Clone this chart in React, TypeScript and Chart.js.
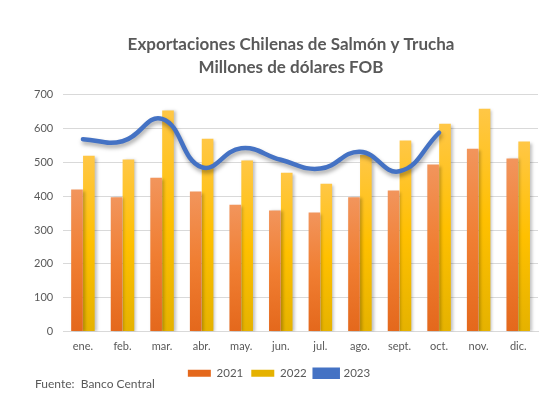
import React, { useEffect, useRef } from "react";
import { Chart, registerables } from "chart.js";

Chart.register(...registerables);

const categories = ["ene.", "feb.", "mar.", "abr.", "may.", "jun.", "jul.", "ago.", "sept.", "oct.", "nov.", "dic."];
const values2021 = [420, 397, 455, 414, 375, 358, 352, 397, 417, 494, 541, 512];
const values2022 = [520, 509, 654, 570, 506, 470, 437, 522, 565, 615, 659, 562];
const values2023 = [569, 563, 629, 486, 542, 508, 482, 532, 474, 588, null, null];
const titleLines = ["Exportaciones Chilenas de Salmón y Trucha", "Millones de dólares FOB"];
const sourceText = "Fuente:  Banco Central";

const TEXT = "#595959";
const FONT = "Lato, 'Open Sans', sans-serif";

function barGradient(stops: [number, string][]) {
  return (ctx: any) => {
    const chart = ctx.chart;
    const area = chart.chartArea;
    const y = chart.scales?.y;
    if (!area || !y || ctx.raw == null) return stops[1][1];
    const top = y.getPixelForValue(ctx.raw);
    const bottom = y.getPixelForValue(0);
    if (!isFinite(top) || bottom - top < 1) return stops[1][1];
    const g = chart.ctx.createLinearGradient(0, top, 0, bottom);
    stops.forEach(([o, c]) => g.addColorStop(o, c));
    return g;
  };
}

const shadowPlugin = {
  id: "shadowPlugin",
  afterLayout(chart: any) {
    // Excel-like placement: title centred slightly right, legend slightly left
    if (chart.titleBlock) {
      chart.titleBlock.left += 10;
      chart.titleBlock.right += 10;
    }
    if (chart.legend) {
      chart.legend.left -= 2;
      chart.legend.right -= 2;
    }
  },
  beforeDatasetDraw(chart: any, args: any) {
    const c = chart.ctx;
    c.save();
    if (args.meta.type === "line") {
      c.shadowColor = "rgba(0,0,0,0.35)";
      c.shadowBlur = 4;
      c.shadowOffsetX = 1;
      c.shadowOffsetY = 3;
    } else {
      c.shadowColor = "rgba(0,0,0,0.25)";
      c.shadowBlur = 3;
      c.shadowOffsetX = 2;
      c.shadowOffsetY = 1;
    }
  },
  afterDatasetDraw(chart: any) {
    chart.ctx.restore();
  },
};

export default function App() {
  const ref = useRef<HTMLCanvasElement | null>(null);

  useEffect(() => {
    if (!ref.current) return;
    const chart = new Chart(ref.current, {
      type: "bar",
      data: {
        labels: categories,
        datasets: [
          {
            type: "bar",
            label: "2021",
            data: values2021,
            order: 1,
            backgroundColor: barGradient([
              [0, "#F2955C"],
              [0.5, "#F07E32"],
              [1, "#E4681C"],
            ]),
            borderWidth: 0,
            categoryPercentage: 0.6,
            barPercentage: 0.98,
          },
          {
            type: "bar",
            label: "2022",
            data: values2022,
            order: 1,
            backgroundColor: barGradient([
              [0, "#FFC746"],
              [0.5, "#FFC000"],
              [1, "#E5B200"],
            ]),
            borderWidth: 0,
            categoryPercentage: 0.6,
            barPercentage: 0.98,
          },
          {
            type: "line",
            label: "2023",
            data: values2023,
            order: 0,
            borderColor: "#4472C4",
            backgroundColor: "#4472C4",
            borderWidth: 4.5,
            pointRadius: 0,
            tension: 0.45,
            spanGaps: false,
            borderCapStyle: "round",
          } as any,
        ],
      },
      options: {
        responsive: false,
        animation: false,
        events: [],
        layout: { padding: { left: 24, right: 14, top: 0, bottom: 8 } },
        plugins: {
          title: {
            display: true,
            text: titleLines,
            color: TEXT,
            font: { family: FONT, size: 17, weight: "bold", lineHeight: 1.35 },
            padding: { top: 33, bottom: 16 },
          },
          legend: {
            position: "bottom",
            labels: {
              color: TEXT,
              font: { family: FONT, size: 11.5 },
              boxWidth: 23,
              boxHeight: 7,
              padding: 8,
              sort: (a: any, b: any) => a.datasetIndex - b.datasetIndex,
            },
          },
          tooltip: { enabled: false },
        },
        scales: {
          x: {
            grid: { display: false, drawTicks: false },
            border: { display: true, color: "#D9D9D9", width: 1 },
            ticks: { color: TEXT, font: { family: FONT, size: 11 }, padding: 8, maxRotation: 0 },
            afterFit: (scale: any) => {
              scale.height = 28;
            },
          },
          y: {
            min: 0,
            max: 700,
            grid: { color: "#D9D9D9", drawTicks: false },
            border: { display: false },
            ticks: { stepSize: 100, color: TEXT, font: { family: FONT, size: 11 }, padding: 10 },
          },
        },
      },
      plugins: [shadowPlugin],
    });
    return () => chart.destroy();
  }, []);

  return (
    <div style={{ position: "fixed", left: 0, top: 0, width: 552, height: 397, background: "#fff" }}>
      <canvas ref={ref} width={552} height={397} style={{ display: "block" }} />
      <div
        style={{
          position: "absolute",
          left: 35,
          top: 376,
          fontFamily: FONT,
          fontSize: 12,
          color: TEXT,
          whiteSpace: "pre",
          lineHeight: "16px",
        }}
      >
        {sourceText}
      </div>
    </div>
  );
}
